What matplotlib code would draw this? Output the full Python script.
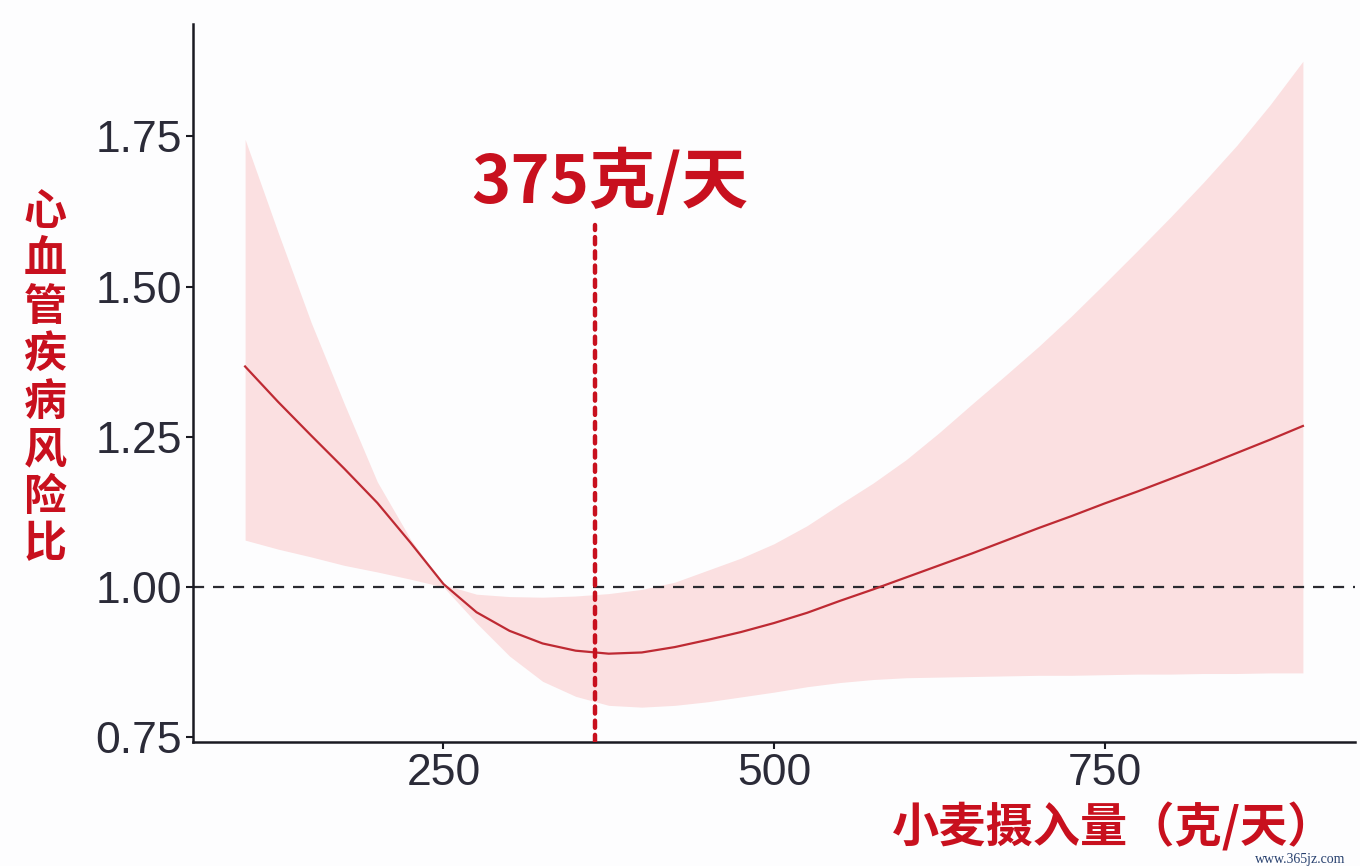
import matplotlib
matplotlib.use("Agg")
import matplotlib.pyplot as plt

# ---- data ----
intake = [100, 125, 150, 175, 200, 225, 250, 275, 300, 325, 350, 375, 400,
          425, 450, 475, 500, 525, 550, 575, 600, 625, 650, 675, 700, 725,
          750, 775, 800, 825, 850, 875, 900]
hr = [1.367, 1.308, 1.252, 1.197, 1.140, 1.074, 1.005, 0.958, 0.927, 0.906,
      0.894, 0.889, 0.891, 0.900, 0.912, 0.925, 0.940, 0.957, 0.977, 0.996,
      1.016, 1.036, 1.056, 1.077, 1.098, 1.118, 1.139, 1.159, 1.180, 1.201,
      1.223, 1.245, 1.268]
upper = [1.745, 1.590, 1.440, 1.305, 1.175, 1.080, 1.004, 0.988, 0.984, 0.983,
         0.985, 0.989, 0.996, 1.008, 1.028, 1.048, 1.072, 1.102, 1.138, 1.173,
         1.212, 1.257, 1.305, 1.352, 1.400, 1.451, 1.505, 1.560, 1.616, 1.674,
         1.735, 1.802, 1.875]
lower = [1.078, 1.063, 1.050, 1.036, 1.025, 1.013, 1.000, 0.940, 0.885, 0.843,
         0.818, 0.803, 0.800, 0.803, 0.809, 0.817, 0.825, 0.834, 0.841, 0.846,
         0.849, 0.850, 0.851, 0.852, 0.853, 0.853, 0.854, 0.855, 0.855, 0.856,
         0.856, 0.857, 0.857]
x_ticks = [250, 500, 750]
y_ticks = [0.75, 1.00, 1.25, 1.50, 1.75]
y_ticklabels = ["0.75", "1.00", "1.25", "1.50", "1.75"]
optimum_x = 365
optimum_label = "375克/天"
ylabel = "心血管疾病风险比"
xlabel = "小麦摄入量（克/天）"
reference_hr = 1.0

RED = "#C8101E"
TXT = "#2b2b38"
cjk = ["Noto Sans CJK SC", "DejaVu Sans"]

fig = plt.figure(figsize=(13.6, 8.66), dpi=100)
fig.patch.set_facecolor("#fdfdfe")
ax = fig.add_axes([193/1360, 124/866, (1355-193)/1360, (742-24)/866])
ax.set_facecolor("#fdfdfe")

ax.fill_between(intake, lower, upper, color="#FBE0E1", lw=0, zorder=1)
ax.plot(intake, hr, color="#BE2A33", lw=1.6, zorder=3)
ax.axhline(reference_hr, color="#2a2a30", lw=1.6, ls=(0, (5, 4)), zorder=2)
ax.plot([optimum_x, optimum_x], [0.742, 1.603], color=RED, lw=3.2,
        ls=(0, (1.6, 1.6)), dash_capstyle="round", zorder=4)

ax.set_xlim(60.6, 939.4)
ax.set_ylim(0.742, 1.937)
ax.set_xticks(x_ticks)
ax.set_yticks(y_ticks)
ax.set_yticklabels(y_ticklabels)
for s in ["top", "right"]:
    ax.spines[s].set_visible(False)
for s in ["left", "bottom"]:
    ax.spines[s].set_linewidth(1.8)
    ax.spines[s].set_color("#1a1a22")
ax.tick_params(axis="both", length=5, width=1.5, color="#1a1a22",
               labelcolor=TXT, labelsize=32, pad=3)
for lab in ax.get_xticklabels() + ax.get_yticklabels():
    lab.set_family(["Liberation Sans", "DejaVu Sans"])

ax.text(376, 1.672, optimum_label, color=RED, fontsize=48,
        fontweight="bold", family=cjk, ha="center", va="center", zorder=5)

fig.text(45/1360, 1 - 378/866, "\n".join(ylabel), color=RED, fontsize=31,
         fontweight="bold", family=cjk, ha="center", va="center",
         linespacing=1.1)
fig.text(1114/1360, 1 - 828/866, xlabel, color=RED, fontsize=34,
         fontweight="bold", family=cjk, ha="center", va="center")
fig.text(1300/1360, 1 - 859/866, "www.365jz.com", color="#27406e",
         fontsize=10, family=["Liberation Serif", "DejaVu Serif"],
         ha="center", va="center")

fig.savefig("out.png", dpi=100, facecolor=fig.get_facecolor())
